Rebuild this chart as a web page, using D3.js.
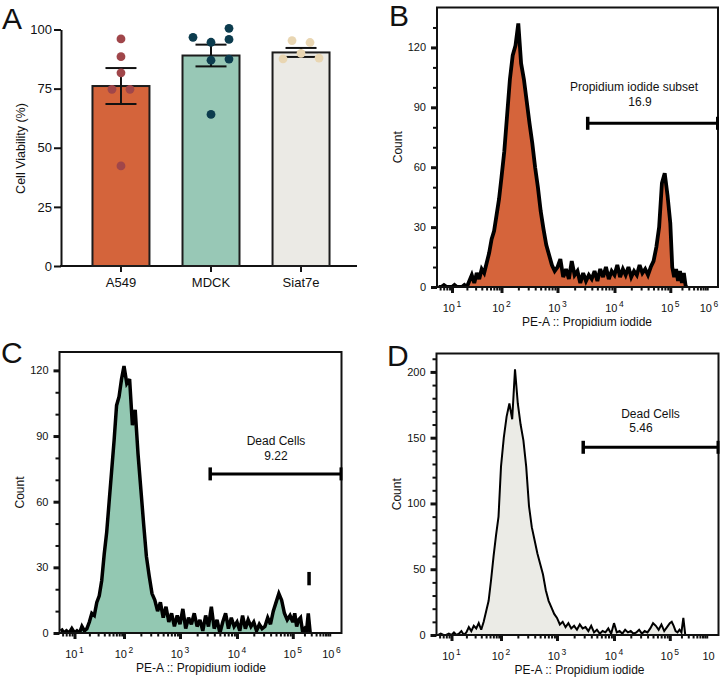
<!DOCTYPE html>
<html><head><meta charset="utf-8">
<script src="https://cdn.jsdelivr.net/npm/d3@7"></script>
<style>
body{margin:0;background:#fff}
svg{display:block}
text{font-family:"Liberation Sans",Arial,Helvetica,sans-serif;fill:#111}
</style>
</head><body>
<svg id="c" width="720" height="678"></svg>
<script>
// ---------- Panel A data ----------
const categories = ["A549", "MDCK", "Siat7e"];
const meanViability = [76.1, 89.0, 90.3];
const semViability = [7.6, 4.6, 1.9];
const pointsA549 = [96.0, 88.5, 81.7, 74.7, 74.7, 42.3];
const slotsA549 = [0, 0, 0, -0.5, 0.5, 0];
const pointsMDCK = [100.5, 96.7, 95.8, 94.6, 87.5, 87.0, 64.1];
const slotsMDCK = [1, -1, 1, 0, 1, 0, 0];
const pointsSiat7e = [95.3, 94.5, 89.9, 87.6, 87.9];
const slotsSiat7e = [-0.5, 0.5, 0, -1, 1];
const yTicksA = [0, 25, 50, 75, 100];
const barColors = ["#d4643b", "#98c8b6", "#ebeae5"];
const dotColors = ["#a0464a", "#0c3c4e", "#e9d6b2"];

// ---------- Histogram data (counts per bin, bins in log10 PE-A units) ----------
const histStartLog = 0.75, histStepLog = 0.05;
const countsB = [0,0,1,0,0,0,1,0,0,0,1,0,3,6,2,7,4,9,7,12,17,24,28,36,44,55,68,86,104,116,121,132,112,104,93,82,72,60,50,38,29,21,16,11,8,10,14,5,9,4,13,6,8,2,7,3,6,4,8,3,9,5,10,4,8,6,11,5,9,6,10,5,8,6,11,7,9,6,10,13,20,30,52,57,46,32,10,5,9,3,8,2,7,0,0];
const countsC = [2,0,1,0,2,0,1,0,3,1,2,5,9,8,14,17,24,36,46,60,74,88,104,108,116,122,114,116,95,102,82,66,50,35,26,18,15,10,14,7,12,5,9,3,8,4,11,2,7,4,9,3,6,1,8,3,12,2,6,0,5,9,2,7,3,5,1,8,2,6,3,5,1,4,2,3,7,4,10,14,18,15,9,6,8,5,9,3,6,7,1,2,0,9,0];
const countsD = [0,1,0,0,1,0,2,0,1,3,0,2,6,3,7,5,9,4,10,18,26,42,60,76,90,128,150,166,176,164,202,176,160,148,128,98,82,72,62,54,46,34,26,21,16,13,8,10,6,9,5,7,4,8,5,6,3,7,2,4,1,3,2,5,1,9,2,3,1,4,2,3,1,2,4,1,3,2,5,9,7,4,8,3,6,9,10,7,3,2,4,2,13,0,0];
const decadeTicks = [1, 2, 3, 4, 5, 6];
const decadeExpB = ["1", "2", "3", "4", "5", "6"];
const decadeExpC = ["1", "2", "3", "4", "5", "6"];
const decadeExpD = ["1", "2", "3", "4", "5", ""];
const countTicksB = [0, 30, 60, 90, 120];
const countTicksC = [0, 30, 60, 90, 120];
const countTicksD = [0, 50, 100, 150, 200];
const gateNames = ["Propidium iodide subset", "Dead Cells", "Dead Cells"];
const gateValues = ["16.9", "9.22", "5.46"];
const gateStartLog = [3.53, 3.53, 3.46];
const gateCount = [82, 72.7, 142.7];
const markerC = [5.42, 21.8, 27.9];

const FONT = '"Liberation Sans", Arial, Helvetica, sans-serif';
const INK = "#111";
const svg = d3.select("#c");

// ---------- Panel letters ----------
const letters = [["A", 2, 29], ["B", 389, 26], ["C", 1, 363], ["D", 387, 366]];
svg.selectAll("text.letter").data(letters).join("text").attr("class", "letter")
  .attr("x", d => d[1]).attr("y", d => d[2]).attr("font-size", 30).text(d => d[0]);

// ---------- Panel A ----------
(function () {
  const g = svg.append("g");
  const y = d3.scaleLinear().domain([0, 100]).range([266, 29.5]);
  const x = d3.scaleBand().domain(categories).range([76, 346]).paddingInner(0.367).paddingOuter(0.183);
  const ax = 61;
  const styleAxis = sel => {
    sel.selectAll(".tick line").attr("stroke", INK).attr("stroke-width", 2);
    sel.selectAll("text").attr("font-size", 13).attr("font-family", FONT).attr("fill", INK);
  };
  g.append("g").attr("transform", `translate(${ax},0)`)
    .call(d3.axisLeft(y).tickValues(yTicksA).tickSize(7).tickSizeOuter(0).tickPadding(2))
    .call(s => { s.select(".domain").attr("stroke", INK).attr("stroke-width", 2); styleAxis(s); });
  g.append("g").attr("transform", `translate(0,266)`)
    .call(d3.axisBottom(x).tickSize(6).tickSizeOuter(0).tickPadding(6))
    .call(s => { s.select(".domain").remove(); styleAxis(s); });
  g.append("line").attr("x1", ax - 1).attr("x2", 357).attr("y1", 266).attr("y2", 266)
    .attr("stroke", INK).attr("stroke-width", 2);

  g.selectAll("rect.bar").data(categories).join("rect").attr("class", "bar")
    .attr("x", d => x(d)).attr("width", x.bandwidth())
    .attr("y", (d, i) => y(meanViability[i])).attr("height", (d, i) => y(0) - y(meanViability[i]))
    .attr("fill", (d, i) => barColors[i]).attr("stroke", "#1c1c1c").attr("stroke-width", 2);

  const groups = [[pointsA549, slotsA549], [pointsMDCK, slotsMDCK], [pointsSiat7e, slotsSiat7e]];
  const slotW = 18;
  groups.forEach(([vals, slots], i) => {
    const cx = x(categories[i]) + x.bandwidth() / 2;
    const m = meanViability[i], s = semViability[i];
    const eb = g.append("g").attr("stroke", INK).attr("stroke-width", 2);
    eb.append("line").attr("x1", cx).attr("x2", cx).attr("y1", y(m - s)).attr("y2", y(m + s));
    eb.append("line").attr("x1", cx - 15.5).attr("x2", cx + 15.5).attr("y1", y(m + s)).attr("y2", y(m + s));
    eb.append("line").attr("x1", cx - 15.5).attr("x2", cx + 15.5).attr("y1", y(m - s)).attr("y2", y(m - s));
    g.selectAll(null).data(vals).join("circle")
      .attr("cx", (d, j) => cx + slots[j] * slotW).attr("cy", d => y(d)).attr("r", 4.4)
      .attr("fill", dotColors[i]);
  });

  g.append("text").attr("transform", `translate(24.5,148.5) rotate(-90)`)
    .attr("text-anchor", "middle").attr("font-size", 12.5).text("Cell Viability (%)");
})();

// ---------- Histogram panels ----------
const panels = [
  { frame: [437, 718, 7.5, 287], counts: countsB, ymax: 140, yticks: countTicksB, exps: decadeExpB,
    fill: "#d5643b", lw: 3.8, gi: 0, titleX: 587, nameXY: [634, 91], valXY: [640, 106] },
  { frame: [59.5, 341.5, 352, 633], counts: countsC, ymax: 128.4, yticks: countTicksC, exps: decadeExpC,
    fill: "#93c8b2", lw: 3.5, gi: 1, titleX: 201, nameXY: [276, 445], valXY: [276, 459.5] },
  { frame: [436.5, 718.5, 353.5, 635], counts: countsD, ymax: 214, yticks: countTicksD, exps: decadeExpD,
    fill: "#ebebe6", lw: 2, gi: 2, titleX: 579.5, nameXY: [650.5, 418.3], valXY: [641, 431.7] }
];

panels.forEach((p, pi) => {
  const [x0, x1, y0, y1] = p.frame;
  const g = svg.append("g");
  const x = d3.scaleLinear().domain([0.72, 1, 2, 3, 4, 5, 6])
    .range([0, 15, 64.5, 120.5, 177.5, 233.3, 272].map(v => x0 + v));
  const y = d3.scaleLinear().domain([0, p.ymax]).range([y1, y0]);
  const data = p.counts.map((c, i) => [histStartLog + i * histStepLog, c]);

  const clipId = "clip" + pi;
  g.append("clipPath").attr("id", clipId).append("rect")
    .attr("x", x0).attr("y", y0).attr("width", x1 - x0).attr("height", y1 - y0);
  const hg = g.append("g").attr("clip-path", `url(#${clipId})`);
  hg.append("path").datum(data)
    .attr("d", d3.area().x(d => x(d[0])).y0(y(0)).y1(d => y(d[1])))
    .attr("fill", p.fill);
  hg.append("path").datum(data)
    .attr("d", d3.line().x(d => x(d[0])).y(d => y(d[1])))
    .attr("fill", "none").attr("stroke", "#000").attr("stroke-width", p.lw).attr("stroke-linejoin", "miter").attr("stroke-miterlimit", 3);

  // x minor ticks
  const minors = [];
  for (let dd = 0; dd <= 5; dd++) for (let k = 2; k <= 9; k++) {
    const v = dd + Math.log10(k);
    if (v > 0.72 && x(v) < x1 - 1) minors.push(v);
  }
  g.append("g").attr("transform", `translate(0,${y1})`)
    .call(d3.axisBottom(x).tickValues(minors).tickSize(3.5).tickFormat("").tickSizeOuter(0))
    .call(s => { s.select(".domain").remove(); s.selectAll(".tick line").attr("stroke", INK).attr("stroke-width", 2); });
  g.append("g").attr("transform", `translate(0,${y1})`)
    .call(d3.axisBottom(x).tickValues(decadeTicks.slice(0, 5)).tickSize(6).tickFormat("").tickSizeOuter(0))
    .call(s => { s.select(".domain").remove(); s.selectAll(".tick line").attr("stroke", INK).attr("stroke-width", 3); });
  // x labels 10^n
  decadeTicks.forEach((d, i) => {
    const t = g.append("text").attr("x", x(d)).attr("y", y1 + 25).attr("text-anchor", "middle").attr("font-size", 11);
    t.append("tspan").text("10");
    if (p.exps[i]) t.append("tspan").attr("dx", 1.5).attr("dy", -5).attr("font-size", 8.5).text(p.exps[i]);
  });

  // y ticks
  const yMinor = d3.range(10, p.ymax, 10).filter(v => !p.yticks.includes(v));
  g.append("g").attr("transform", `translate(${x0},0)`)
    .call(d3.axisLeft(y).tickValues(yMinor).tickSize(4).tickFormat("").tickSizeOuter(0))
    .call(s => { s.select(".domain").remove(); s.selectAll(".tick line").attr("stroke", INK).attr("stroke-width", 2); });
  g.append("g").attr("transform", `translate(${x0},0)`)
    .call(d3.axisLeft(y).tickValues(p.yticks).tickSize(6).tickPadding(5).tickSizeOuter(0))
    .call(s => {
      s.select(".domain").remove();
      s.selectAll(".tick line").attr("stroke", INK).attr("stroke-width", 3);
      s.selectAll("text").attr("font-size", 11).attr("font-family", FONT).attr("fill", INK);
    });

  // frame
  g.append("rect").attr("x", x0).attr("y", y0).attr("width", x1 - x0).attr("height", y1 - y0)
    .attr("fill", "none").attr("stroke", INK).attr("stroke-width", 2);

  // gate
  const gy = y(gateCount[p.gi]);
  const gx = x(gateStartLog[p.gi]);
  const gg = g.append("g").attr("stroke", "#000");
  gg.append("line").attr("x1", gx).attr("x2", x1).attr("y1", gy).attr("y2", gy).attr("stroke-width", 3);
  gg.append("line").attr("x1", gx).attr("x2", gx).attr("y1", gy - 6.5).attr("y2", gy + 6.5).attr("stroke-width", 3.5);
  gg.append("line").attr("x1", x1 - 0.5).attr("x2", x1 - 0.5).attr("y1", gy - 6.5).attr("y2", gy + 6.5).attr("stroke-width", 3);
  g.append("text").attr("x", p.nameXY[0]).attr("y", p.nameXY[1]).attr("text-anchor", "middle")
    .attr("font-size", 12).text(gateNames[p.gi]);
  g.append("text").attr("x", p.valXY[0]).attr("y", p.valXY[1]).attr("text-anchor", "middle")
    .attr("font-size", 12).text(gateValues[p.gi]);

  if (pi === 1) {
    g.append("line").attr("x1", x(markerC[0])).attr("x2", x(markerC[0]))
      .attr("y1", y(markerC[1])).attr("y2", y(markerC[2])).attr("stroke", "#000").attr("stroke-width", 3.5);
  }

  // axis titles
  g.append("text").attr("x", p.titleX).attr("y", y1 + 39).attr("text-anchor", "middle")
    .attr("font-size", 12).text("PE-A :: Propidium iodide");
  g.append("text").attr("transform", `translate(${x0 - 35.5},${(y0 + y1) / 2}) rotate(-90)`)
    .attr("text-anchor", "middle").attr("font-size", 12).text("Count");
});
</script>
</body></html>
